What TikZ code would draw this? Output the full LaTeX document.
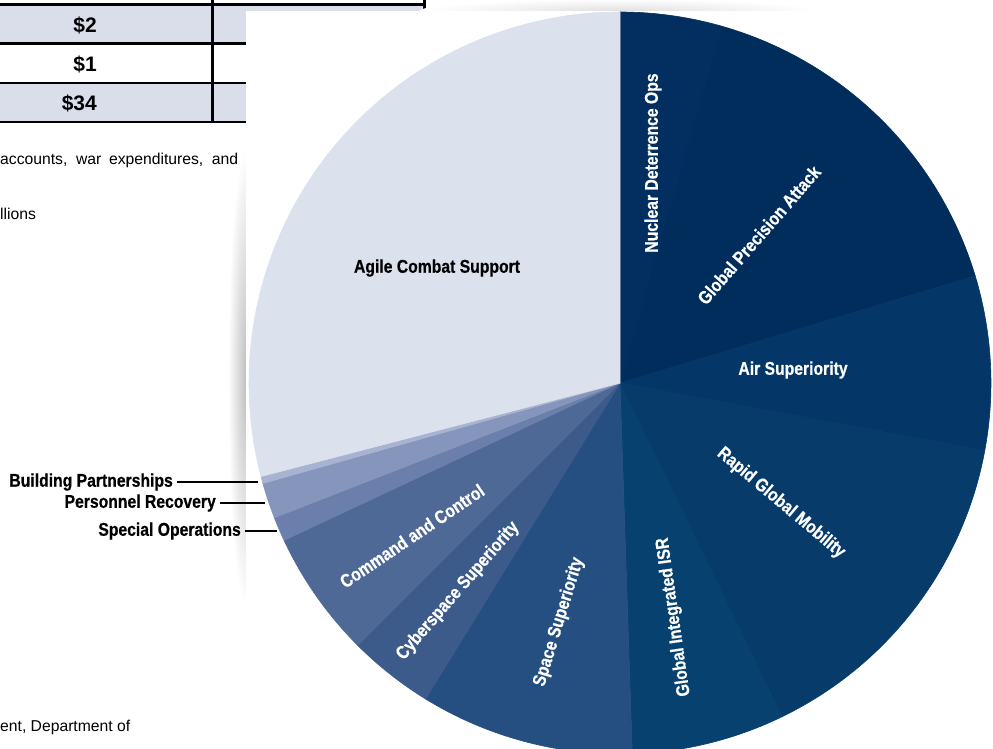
\documentclass[tikz,border=0pt]{standalone}
\usepackage{fontspec}
\setmainfont{Liberation Sans}
\newfontfamily\condfont[FakeStretch=0.85,BoldFeatures={FakeBold=0.5}]{Liberation Sans}
\usetikzlibrary{positioning}
\definecolor{rowfill}{HTML}{DADEEB}
\definecolor{agile}{HTML}{DCE1EE}
\definecolor{bldg}{HTML}{A7B3D0}
\definecolor{persrec}{HTML}{8595BC}
\definecolor{specops}{HTML}{6A7FAB}
\definecolor{cmdctl}{HTML}{4F6997}
\definecolor{cyber}{HTML}{3C5B8B}
\definecolor{space}{HTML}{254F81}
\definecolor{isr}{HTML}{06416F}
\definecolor{mobility}{HTML}{073B6A}
\definecolor{airsup}{HTML}{043667}
\definecolor{precision}{HTML}{012D5C}
\definecolor{nuclear}{HTML}{022F5F}
\begin{document}
\begin{tikzpicture}[x=1pt,y=1pt,
    pagetext/.style={inner sep=0,font=\fontsize{15.7}{18}\selectfont},
    cellnum/.style={inner sep=0,anchor=east,font=\fontsize{21}{24}\selectfont\bfseries},
    slicelabel/.style={inner sep=0,text=white,font=\fontsize{18.5}{20}\selectfont\condfont\bfseries},
    sidelabel/.style={inner sep=0,inner xsep=4pt,font=\fontsize{18.5}{20}\selectfont\condfont\bfseries},
    tablerule/.style={line width=2.5pt},
    leader/.style={line width=2.2pt}]
    \path[use as bounding box] (0,0) rectangle (993,748);
    \clip (0,0) rectangle (993,748);
    \fill[white] (0,0) rectangle (993,748);
    % page behind the panel
    \fill[rowfill] (0,706) rectangle (424,742);
    \fill[rowfill] (0,627) rectangle (424,664);
    \foreach \y in {743.5,704.5,665,626}
        \draw[tablerule] (0,\y) -- (425.5,\y);
    \foreach \x in {212.5,424.5}
        \draw[tablerule] (\x,748) -- (\x,626);
    \node[cellnum] (two) at (97,723) {\$2};
    \node[cellnum] (one) at (97,684) {\$1};
    \node[cellnum] (total) at (97,645) {\$34};
    \node[pagetext,anchor=base west] (acct) at (0,583) {\makebox[238pt][s]{accounts, war expenditures, and}};
    \node[pagetext,anchor=base west] (mill) at (0,528) {llions};
    \node[pagetext,anchor=base west] (dept) at (0,17) {ent, Department of};
    % panel and its shadow
    \shade[inner color=black!25,outer color=white] (246,370) ellipse [x radius=18,y radius=230];
    \shade[inner color=black!12,outer color=white] (620,737) ellipse [x radius=200,y radius=12];
    \fill[white] (246,-10) rectangle (1000,737);
    % pie
    \coordinate (O) at (620,365);
    \def\r{371}
    \foreach \a/\b/\c in {74/90/nuclear,16.8/74/precision,-10.5/16.8/airsup,
        -64.1/-10.5/mobility,-88.1/-64.1/isr,-121.6/-88.1/space,-135/-121.6/cyber,
        -154.9/-135/cmdctl,-158.7/-154.9/specops,-164.3/-158.7/persrec,
        -165.4/-164.3/bldg,90/194.6/agile}
        \filldraw[\c,line width=0.6pt,line join=round] (O) -- ++(\a:\r) arc[start angle=\a,end angle=\b,radius=\r] -- cycle;
    \node[slicelabel,text=black] (agilelbl) at (437,480) {Agile Combat Support};
    \node[slicelabel,rotate=90] (nuclbl) at (653,585) {Nuclear Deterrence Ops};
    \node[slicelabel,rotate=49] (gpalbl) at (759,513) {Global Precision Attack};
    \node[slicelabel] (airlbl) at (793,378) {Air Superiority};
    \node[slicelabel,rotate=-40] (rgmlbl) at (781,245) {Rapid Global Mobility};
    \node[slicelabel,rotate=98] (isrlbl) at (674,131) {Global Integrated ISR};
    \node[slicelabel,rotate=73] (spacelbl) at (559,126) {Space Superiority};
    \node[slicelabel,rotate=49] (cyberlbl) at (458,157) {Cyberspace Superiority};
    \node[slicelabel,rotate=34] (c2lbl) at (412,212) {Command and Control};
    % small slices
    \coordinate (bpTip) at (258,266);
    \coordinate (prTip) at (265,245);
    \coordinate (soTip) at (277,217);
    \node[sidelabel,left=81 of bpTip] (bp) {Building Partnerships};
    \node[sidelabel,left=45 of prTip] (pr) {Personnel Recovery};
    \node[sidelabel,left=32 of soTip] (so) {Special Operations};
    \draw[leader] (bp.east) -- (bpTip);
    \draw[leader] (pr.east) -- (prTip);
    \draw[leader] (so.east) -- (soTip);
\end{tikzpicture}
\end{document}
